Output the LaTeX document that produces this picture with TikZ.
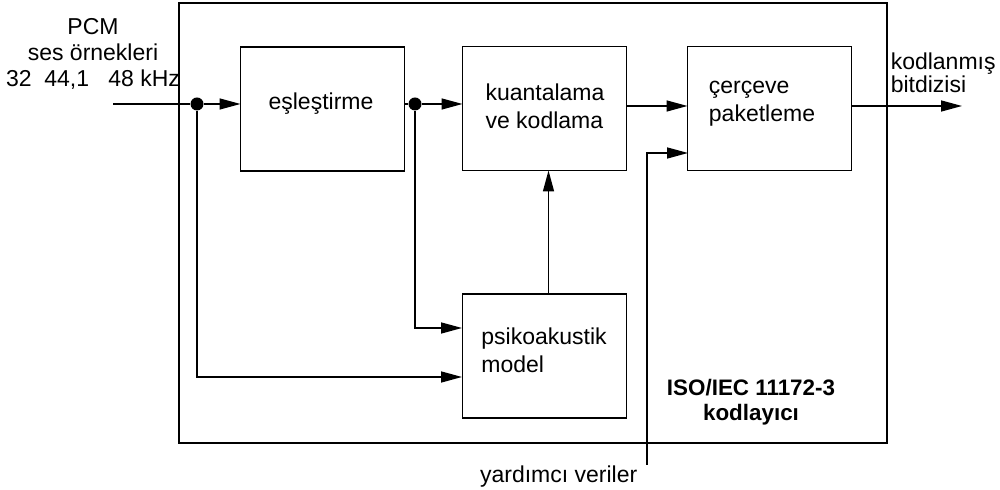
\documentclass[tikz,border=0pt]{standalone}
\usepackage{fontspec}
\setmainfont{Liberation Sans}
\usetikzlibrary{arrows.meta,calc}
\begin{document}
\begin{tikzpicture}[x=0.5pt,y=-0.5pt,
  line width=0.75pt,
  font=\fontsize{11.5}{14}\selectfont,
  blk/.style={draw, rectangle, inner sep=0pt, outer sep=0pt,
              minimum width=82pt, minimum height=62pt},
  lbl/.style={inner sep=0pt, align=left},
  arr/.style={-{Triangle[length=10.5pt,width=5.5pt]}},
  junction/.style={fill, circle, inner sep=0pt, minimum size=6.5pt}]
\useasboundingbox (0,0) rectangle (1000,490);

% encoder frame
\node[draw, rectangle, inner sep=0pt, minimum width=354pt, minimum height=220pt] (outer) at (533,223) {};

% processing blocks
\node[blk] (map)   at (322.5,109) {};
\node[blk] (quant) at (544.5,108.5) {};
\node[blk] (frame) at (769.5,108.5) {};
\node[blk] (psy)   at (544.5,356) {};

% block captions
\node[lbl] (tmap)   at (321,104) {eşleştirme};
\node[lbl] (tquant) at (545,106) {kuantalama\\ve kodlama};
\node[lbl] (tframe) at (762,103.5) {çerçeve\\paketleme};
\node[lbl] (tpsy)   at (544,350) {psikoakustik\\model};
\node[lbl, align=center, font=\bfseries\fontsize{11.2}{12.5}\selectfont] (tiso) at (751,402) {ISO/IEC 11172-3\\kodlayıcı};

% outside labels
\node[lbl, align=center, font=\fontsize{11.5}{13}\selectfont] (tin) at (93,54) {PCM\\ses örnekleri\\32\ \ 44,1\ \ \ 48 kHz};
\node[lbl, anchor=west, font=\fontsize{11.5}{11.5}\selectfont] (tout) at (890,73) {kodlanmış\\bitdizisi};
\node[lbl, anchor=east] (taux) at (638,477) {yardımcı veriler};

% junctions and free ends
\node[junction] (d1) at (197,104) {};
\node[junction] (d2) at (415,104) {};
\coordinate (in)  at (113,104);
\coordinate (out) at (962,106);
\coordinate (aux) at (647,465);
\coordinate (pa)  at (462,328);
\coordinate (pb)  at (462,377);
\coordinate (fa)  at (688,153);

% signal path
\draw (in) -- (d1);
\draw[arr] (d1) -- (map.west |- d1);
\draw (map.east |- d2) -- (d2);
\draw[arr] (d2) -- (quant.west |- d2);
\draw[arr] (quant.east |- out) -- (frame.west |- out);
\draw[arr] (frame.east |- out) -- (out);

% side chains
\draw[arr] (d2) |- (pa);
\draw[arr] (d1) |- (pb);
\draw[arr] ([xshift=2pt]psy.north) -- ([xshift=2pt]quant.south);
\draw[arr] (aux) |- (fa);
\end{tikzpicture}
\end{document}
